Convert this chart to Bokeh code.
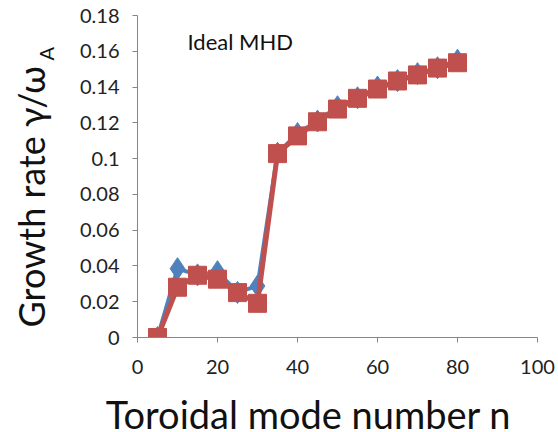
import math
from bokeh.plotting import figure
from bokeh.layouts import row, column
from bokeh.models import Range1d, Label, FixedTicker, CustomJSTickFormatter
from bokeh.core.properties import value
from bokeh.embed import file_html
from bokeh.resources import INLINE

# data
n_blue = [5, 10, 15, 20, 25, 30, 35, 40, 45, 50, 55, 60, 65, 70, 75, 80]
g_blue = [0.0, 0.0385, 0.0350, 0.0368, 0.0252, 0.0288, 0.1030, 0.1140, 0.1210,
          0.1290, 0.1340, 0.1400, 0.1436, 0.1475, 0.1508, 0.1550]
n_red = [5, 10, 15, 20, 25, 30, 35, 40, 45, 50, 55, 60, 65, 70, 75, 80]
g_red = [0.0, 0.0281, 0.0348, 0.0326, 0.0251, 0.0191, 0.1028, 0.1127, 0.1206,
         0.1277, 0.1337, 0.1389, 0.1434, 0.1468, 0.1506, 0.1536]
x_ticks = [0, 20, 40, 60, 80, 100]
y_ticks = [0, 0.02, 0.04, 0.06, 0.08, 0.1, 0.12, 0.14, 0.16, 0.18]
x_title = "Toroidal mode number n"
y_title = "Growth rate \u03b3/\u03c9"
y_title_sub = "A"
note = "Ideal MHD"

FONT = "Lato"
TXT = "#111111"
W, H = 558, 432
YT_W = 70          # width of the strip holding the y title
XT_H = 47          # height of the strip holding the x title
MAIN_W, MAIN_H = W - YT_W, H - XT_H
LEFT, TOP, RIGHT, BOTTOM = 67, 15, 21, 48
FW, FH = MAIN_W - LEFT - RIGHT, MAIN_H - TOP - BOTTOM
X0, X1, Y0, Y1 = 0, 100, 0, 0.18


def blank(w, h, top=0, bottom=0):
    # strip without axes or grid, used only to hold title text
    f = figure(width=w, height=h, output_backend="svg", toolbar_location=None,
               x_range=Range1d(0, w), y_range=Range1d(0, h),
               x_axis_location=None, y_axis_location=None,
               min_border_left=0, min_border_right=0,
               min_border_top=top, min_border_bottom=bottom)
    f.outline_line_color = None
    f.grid.visible = False
    return f


# main chart
p = figure(width=MAIN_W, height=MAIN_H, output_backend="svg", toolbar_location=None,
           x_range=Range1d(X0, X1), y_range=Range1d(Y0, Y1),
           min_border_left=LEFT, min_border_right=RIGHT, min_border_top=TOP,
           min_border_bottom=BOTTOM)
p.outline_line_color = None
p.grid.visible = False

for ax in (p.xaxis[0], p.yaxis[0]):
    ax.axis_line_color = "#868686"
    ax.major_tick_line_color = "#868686"
    ax.major_tick_out = 5
    ax.major_tick_in = 0
    ax.minor_tick_line_color = None
    ax.major_label_text_font = FONT
    ax.major_label_text_font_size = "20px"
    ax.major_label_text_color = "#222222"
    ax.major_label_standoff = 13
p.xaxis.major_label_standoff = 17

p.xaxis.ticker = FixedTicker(ticks=x_ticks)
p.yaxis.ticker = FixedTicker(ticks=y_ticks)
p.yaxis.formatter = CustomJSTickFormatter(code="return String(Math.round(tick*100)/100);")

p.line(n_blue, g_blue, line_color="#4F81BD", line_width=4)
p.scatter(n_blue, g_blue, marker="diamond", size=22, fill_color="#4F81BD",
          line_color="#4F81BD")
p.line(n_red, g_red, line_color="#C0504D", line_width=5)
p.scatter(n_red, g_red, marker="square", size=18, fill_color="#C0504D",
          line_color="#C0504D")

p.add_layout(Label(x=50, y=FH - 26, x_units="screen", y_units="screen",
                   text=note, text_font=FONT,
                   text_font_size="22px", text_color=TXT,
                   text_baseline="middle", text_align="left"))

# y title strip (left); its frame matches the main frame vertically (page y 15..337)
yt = blank(YT_W, MAIN_H, top=TOP, bottom=BOTTOM)
yt.y_range = Range1d(H - (TOP + FH), H - TOP)
yt.text(x=[30], y=[H - 327], text=[y_title], angle=math.pi / 2,
        text_font=value(FONT), text_font_size=value("36px"), text_color=TXT,
        text_align="left", text_baseline="alphabetic")
yt.text(x=[45], y=[H - 60], text=[y_title_sub], angle=math.pi / 2,
        text_font=value(FONT), text_font_size=value("20px"), text_color=TXT,
        text_align="left", text_baseline="alphabetic")

# x title strip (bottom); page y from 385 to 432
xt = blank(W, XT_H)
xt.text(x=[308], y=[H - 427 + 14], text=[x_title],
        text_font=value(FONT), text_font_size=value("38px"), text_color=TXT,
        text_align="center", text_baseline="alphabetic")

layout = column(row(yt, p, spacing=0), xt, spacing=0)
open("out.html", "w").write(file_html(layout, INLINE))
